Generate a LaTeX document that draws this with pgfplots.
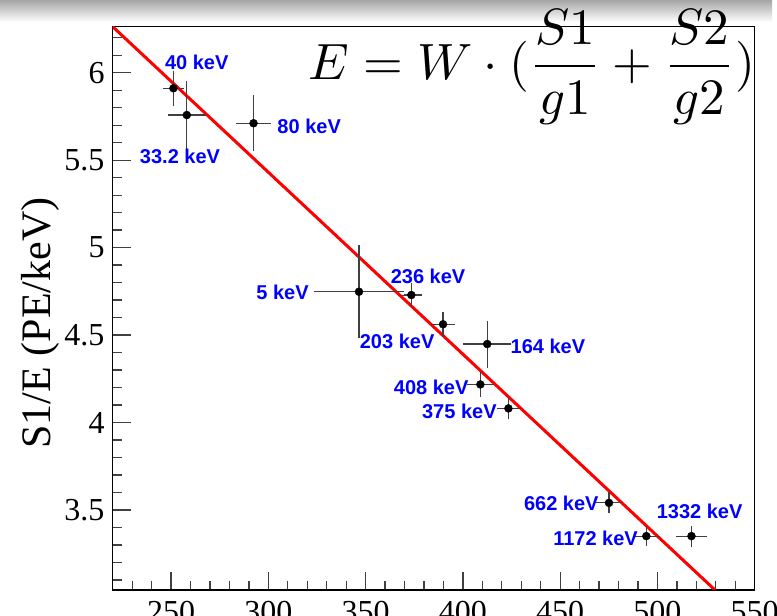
\documentclass[border=0pt]{standalone}
\usepackage{pgfplots}
\pgfplotsset{compat=1.18}
\usepackage{graphicx}
\usepackage{fontspec}
\setmainfont{Liberation Serif}
\newfontfamily\labfont{Liberation Sans}
\definecolor{labblue}{RGB}{0,0,255}
\definecolor{fitred}{RGB}{255,0,0}
\begin{document}
\begin{tikzpicture}
\useasboundingbox (0pt,0pt) rectangle (777pt,616pt);
\clip (0pt,0pt) rectangle (777pt,616pt);
\fill[white] (0pt,0pt) rectangle (777pt,616pt);
\shade[top color=black!35, bottom color=white] (0pt,594pt) rectangle (772pt,616pt);
\begin{axis}[
  at={(112.7pt,26pt)}, anchor=south west,
  scale only axis, width=642pt, height=563.3pt,
  xmin=220, xmax=550, ymin=3.043, ymax=6.263,
  xtick={250,300,...,550}, ytick={3.5,4,4.5,5,5.5,6},
  minor xtick={220,230,...,550}, minor ytick={3.1,3.2,...,6.25},
  xtick pos=bottom, ytick pos=left, tick align=inside,
  major tick length=18pt, minor tick length=9pt,
  tick style={line width=1.3pt, black!75},
  axis line style={line width=1.4pt, black},
  /pgf/number format/assume math mode=true,
  ticklabel style={font=\fontsize{32}{36}\selectfont, inner sep=0pt},
  yticklabel style={xshift=-8pt},
  xticklabel style={yshift=-10.7pt},
  clip=true,
]
\addplot[fitred, line width=3pt] coordinates {(220,6.263) (529.6,3.043)};
\addplot[only marks, mark=*, mark size=4pt, black,
  error bars/.cd, x dir=both, x explicit, y dir=both, y explicit,
  error bar style={line width=1.1pt, black!75},
  error mark options={black!75, line width=1.1pt, mark size=3pt}]
coordinates {
 (251.2,5.911) +- (4.0,0.083)
 (258.1,5.758) +- (8.1,0.177)
 (292.4,5.711) +- (7.5,0.142)
 (346.6,4.748) +- (21.5,0.250)
 (373.5,4.729) +- (3.9,0.053)
 (389.8,4.562) +- (4.6,0.053)
 (412.5,4.449) +- (10.7,0.117)
 (409.0,4.218) +- (5.4,0.054)
 (423.4,4.081) +- (4.5,0.046)
 (475.1,3.541) +- (5.3,0.043)
 (494.3,3.351) +- (5.3,0.040)
 (517.5,3.351) +- (6.2,0.043)
};
\begin{scope}[every node/.style={font=\labfont\bfseries\fontsize{20}{23}\selectfont, text=labblue, inner sep=0pt}]
\node at (axis cs:263.2,6.059) {40 keV};
\node at (axis cs:254.6,5.524) {33.2 keV};
\node at (axis cs:321.0,5.691) {80 keV};
\node at (axis cs:307.3,4.746) {5 keV};
\node at (axis cs:382.1,4.834) {236 keV};
\node at (axis cs:366.2,4.462) {203 keV};
\node at (axis cs:443.7,4.433) {164 keV};
\node at (axis cs:383.7,4.201) {408 keV};
\node at (axis cs:398.2,4.062) {375 keV};
\node at (axis cs:450.6,3.541) {662 keV};
\node at (axis cs:468.2,3.338) {1172 keV};
\node at (axis cs:521.7,3.490) {1332 keV};
\end{scope}
\end{axis}
\node[inner sep=0pt] at (532pt,549pt) {\scalebox{5.1}{$\displaystyle E=W\cdot(\frac{S1}{g1}+\frac{S2}{g2})$}};
\node[rotate=90, inner sep=0pt, font=\fontsize{42}{48}\selectfont] at (40pt,293pt) {S1/E (PE/keV)};
\end{tikzpicture}
\end{document}
